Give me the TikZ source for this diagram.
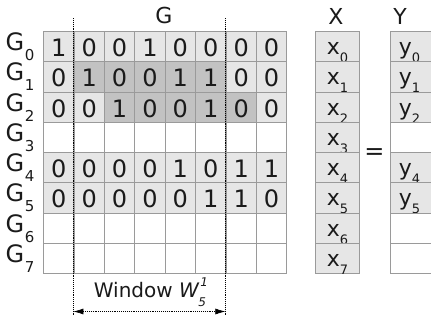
\documentclass[tikz,border=0pt]{standalone}
\usepackage{fontspec}
\setmainfont{DejaVu Sans}
\usetikzlibrary{arrows.meta}
\definecolor{lg}{HTML}{E6E6E6}
\definecolor{dg}{HTML}{C2C2C2}
\definecolor{bd}{HTML}{9A9A9A}
\definecolor{tx}{HTML}{1A1A1A}
\begin{document}
\begin{tikzpicture}[x=1pt,y=-1pt,
  cell/.style={draw=bd, line width=1.1pt, minimum width=30.4pt, minimum height=30.25pt,
    inner sep=0pt, anchor=north west, text=tx, font=\fontsize{24}{24}\selectfont,
    text height=20pt, text depth=0pt},
  vcell/.style={draw=bd, line width=1.1pt, minimum width=44pt, minimum height=30.25pt,
    inner sep=0pt, anchor=north west, text=tx, font=\fontsize{22}{22}\selectfont,
    text height=16pt, text depth=0pt},
  glabel/.style={anchor=base west, inner sep=0pt, text=tx, font=\fontsize{24}{24}\selectfont},
  title/.style={anchor=base, inner sep=0pt, text=tx, font=\fontsize{22}{22}\selectfont},
  win/.style={line width=0.6pt, draw=black, dash pattern=on 0.6pt off 1.3pt},
]
\useasboundingbox (0,0) rectangle (431,322);
\newcommand{\sbx}[1]{\raisebox{-8pt}{\fontsize{13}{13}\selectfont #1}}
\newcommand{\sbg}[1]{\kern0.5pt\raisebox{-10pt}{\fontsize{15}{15}\selectfont #1}}
% matrix G
\foreach \r/\vals in {0/{1,0,0,1,0,0,0,0},1/{0,1,0,0,1,1,0,0},2/{0,0,1,0,0,1,0,0},4/{0,0,0,0,1,0,1,1},5/{0,0,0,0,0,1,1,0}} {
  \foreach \v [count=\c from 0] in \vals {
    \pgfmathtruncatemacro\dk{(\r==1)*(\c>=1)*(\c<=5)+(\r==2)*(\c>=2)*(\c<=6)}
    \ifnum\dk>0 \def\fc{dg}\else\def\fc{lg}\fi
    \node[cell, fill=\fc] (g\r\c) at ({43+30.4*\c},{31+30.25*\r}) {\v};
  }
}
\foreach \r in {3,6,7} {
  \foreach \c in {0,...,7} {
    \node[cell, fill=white] (g\r\c) at ({43+30.4*\c},{31+30.25*\r}) {};
  }
}
% row labels
\foreach \r in {0,...,7} {
  \node[glabel] (gl\r) at (5.5,{31+30.25*\r+19.5}) {G\sbg{\r}};
}
% titles
\node[title] (tG) at (164,23) {G};
\node[title] (tX) at (336,24) {X};
\node[title] (tY) at (400,24) {Y};
% X vector
\foreach \r in {0,...,7} {
  \node[vcell, fill=lg] (x\r) at (315,{31+30.25*\r}) {x\sbx{\r}};
}
% Y vector
\foreach \r in {0,1,2,4,5} {
  \node[vcell, fill=lg] (y\r) at (390,{31+30.25*\r}) {\hspace*{-6pt}y\sbx{\r}};
}
\foreach \r in {3,6,7} {
  \node[vcell, fill=white] (y\r) at (390,{31+30.25*\r}) {};
}
\node[inner sep=0pt, text=tx, font=\fontsize{24}{24}\selectfont] (eq) at (374.5,154) {=};
% window
\coordinate (wlt) at (73.4,18);
\coordinate (wlb) at (73.4,316);
\coordinate (wrt) at (225.4,18);
\coordinate (wrb) at (225.4,316);
\coordinate (wal) at (73.4,311.5);
\coordinate (war) at (225.4,311.5);
\draw[win] (wlt) -- (wlb);
\draw[win] (wrt) -- (wrb);
\draw[win, {Latex[length=10pt,width=6pt]}-{Latex[length=10pt,width=6pt]}] (wal) -- (war);
\node[anchor=base, inner sep=0pt, text=tx, font=\fontsize{20}{20}\selectfont] (wt) at (150,297)
  {Window \textit{W}\rlap{\raisebox{10.5pt}{\fontsize{12}{12}\selectfont\itshape \kern1pt 1}}\kern-1pt\raisebox{-9.5pt}{\fontsize{12}{12}\selectfont\itshape 5}};
\end{tikzpicture}
\end{document}
